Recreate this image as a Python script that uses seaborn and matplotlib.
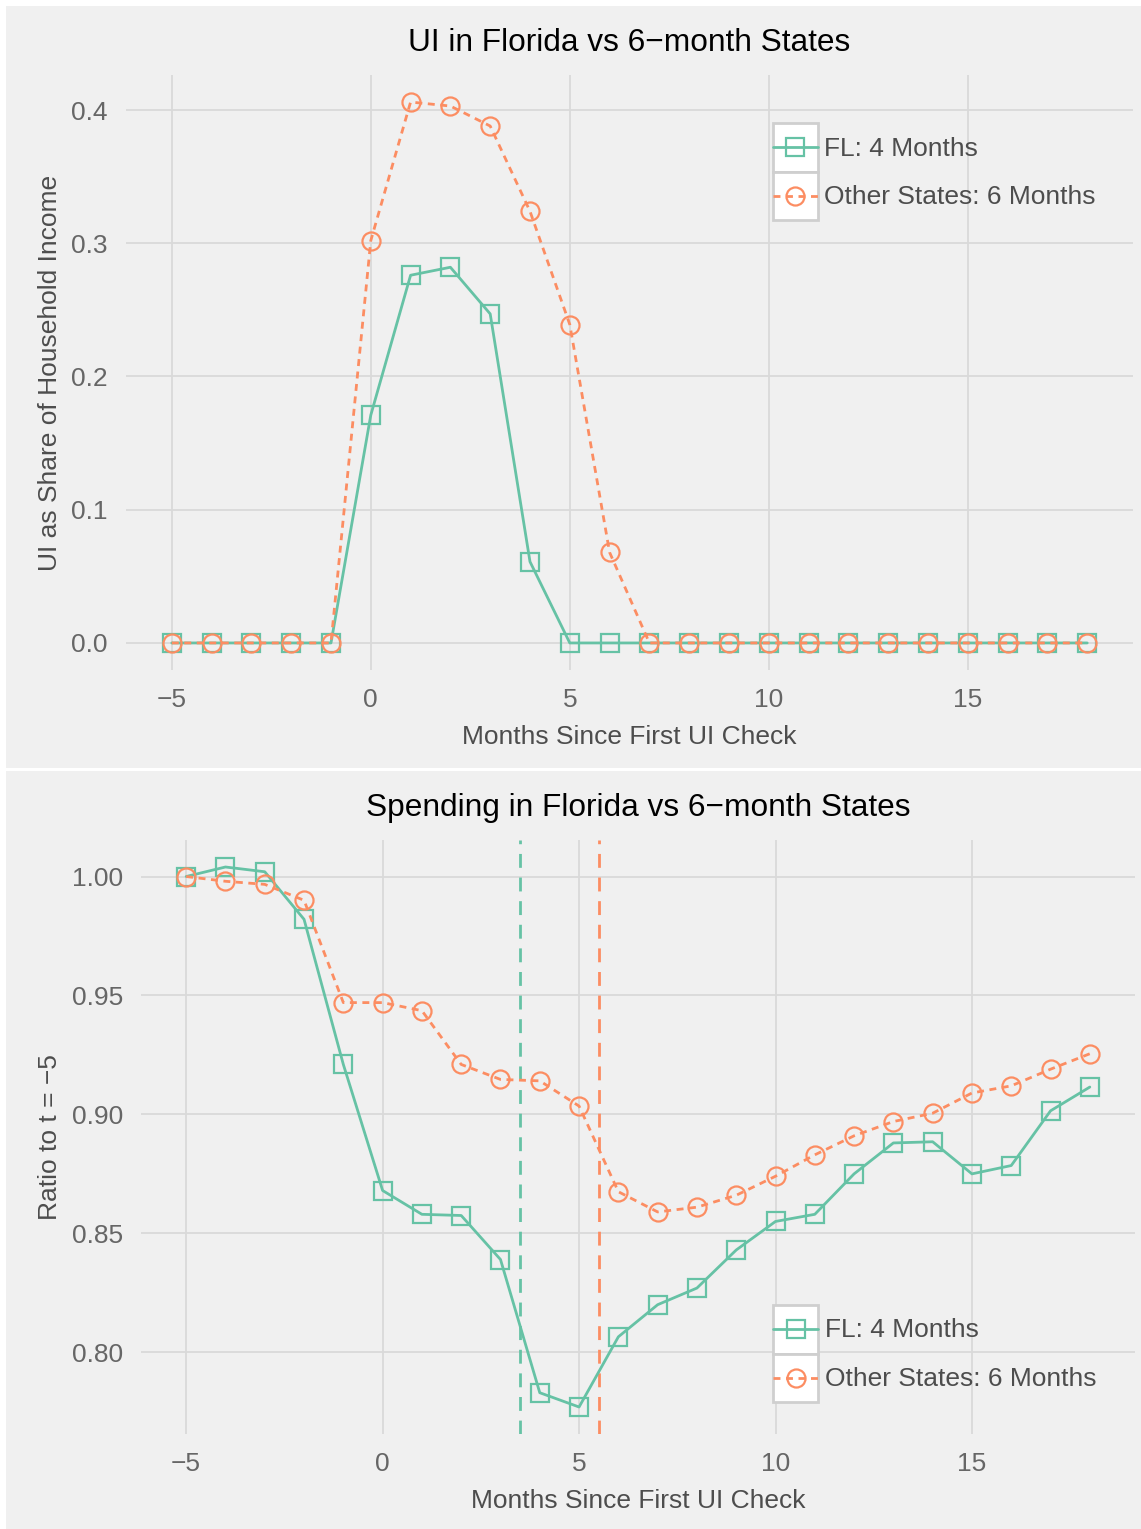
import numpy as np
import pandas as pd
import matplotlib.pyplot as plt
import seaborn as sns
from matplotlib.lines import Line2D
from matplotlib.patches import Rectangle
from matplotlib.legend_handler import HandlerLine2D

# data
months = list(range(-5, 19))
ui_fl = [0, 0, 0, 0, 0, 0.171, 0.276, 0.282, 0.247, 0.061,
         0, 0, 0, 0, 0, 0, 0, 0, 0, 0, 0, 0, 0, 0]
ui_other = [0, 0, 0, 0, 0, 0.302, 0.406, 0.403, 0.388, 0.324, 0.239, 0.068,
            0, 0, 0, 0, 0, 0, 0, 0, 0, 0, 0, 0]
spend_fl = [1.000, 1.004, 1.002, 0.982, 0.921, 0.868, 0.858, 0.8575, 0.839, 0.783,
            0.777, 0.8065, 0.820, 0.827, 0.843, 0.855, 0.858, 0.875, 0.888, 0.8885,
            0.875, 0.8785, 0.9015, 0.9115]
spend_other = [1.000, 0.998, 0.9967, 0.990, 0.947, 0.947, 0.9436, 0.921, 0.9147, 0.9141,
               0.9035, 0.8675, 0.859, 0.861, 0.866, 0.874, 0.883, 0.891, 0.897, 0.9005,
               0.909, 0.912, 0.919, 0.9255]
expiry_months = [3.5, 5.5]
series_names = ["FL: 4 Months", "Other States: 6 Months"]

colors = ["#66c2a5", "#fc8d62"]
markers = ["s", "o"]
styles = ["-", (0, (2.5, 2))]
BG = "#f0f0f0"

sns.set_style("white")
plt.rcParams["font.family"] = ["Liberation Sans", "DejaVu Sans"]

W, H = 1141, 1529
fig = plt.figure(figsize=(W / 100, H / 100), dpi=100, facecolor="white")

# gray panel backgrounds (two stacked plots)
fig.patches.append(Rectangle((6 / W, (H - 768) / H), 1, 762 / H, transform=fig.transFigure,
                             facecolor=BG, edgecolor="none", zorder=-10))
fig.patches.append(Rectangle((6 / W, 0), 1, (H - 771) / H, transform=fig.transFigure,
                             facecolor=BG, edgecolor="none", zorder=-10))


def px_axes(left, right, top, bottom):
    return fig.add_axes([left / W, (H - bottom) / H, (right - left) / W, (bottom - top) / H])


class BoxedHandler(HandlerLine2D):
    # ggplot-like legend key: white box with the line + marker centred in it
    def create_artists(self, legend, orig_handle, xdescent, ydescent, width, height, fontsize, trans):
        arts = super().create_artists(legend, orig_handle, xdescent, ydescent, width, height, fontsize, trans)
        yc = height / 2 - ydescent
        for a in arts:
            a.set_ydata(np.full(len(a.get_xdata()), yc))
        box = Rectangle((-xdescent, -ydescent), width, height, facecolor="white",
                        edgecolor="#cfcfcf", lw=2, transform=trans)
        return [box] + list(arts)


def draw_panel(ax, fl, other, title, ylabel, yticks, yfmt, leg_xy):
    df = pd.DataFrame({"month": months * 2, "value": fl + other,
                       "group": [series_names[0]] * len(months) + [series_names[1]] * len(months)})
    for i, name in enumerate(series_names):
        sub = df[df["group"] == name]
        sns.lineplot(data=sub, x="month", y="value", ax=ax, color=colors[i],
                     linestyle=styles[i], lw=2, marker=markers[i], markersize=13,
                     markerfacecolor="none", markeredgecolor=colors[i], markeredgewidth=1.6,
                     legend=False, zorder=3 + i)
    ax.set_facecolor(BG)
    for s in ax.spines.values():
        s.set_visible(False)
    ax.grid(True, color="#d9d9d9", lw=1.3)
    ax.set_axisbelow(True)
    lo = min(min(fl), min(other))
    hi = max(max(fl), max(other))
    pad = (hi - lo) * 0.05
    ax.set_ylim(lo - pad, hi + pad)
    ax.set_xlim(-5 - 1.15, 18 + 1.15)
    ax.set_xticks([-5, 0, 5, 10, 15])
    ax.set_yticks(yticks)
    ax.set_yticklabels([yfmt.format(v) for v in yticks])
    ax.tick_params(length=0, labelsize=19, labelcolor="#666666", pad=13)
    ax.set_xlabel("Months Since First UI Check", fontsize=19, color="#4d4d4d", labelpad=9)
    ax.set_ylabel(ylabel, fontsize=19, color="#4d4d4d", labelpad=7)
    ax.set_title(title, fontsize=22.8, color="black", pad=17)

    handles = [Line2D([], [], color=colors[i], linestyle=styles[i], lw=2, marker=markers[i],
                      markersize=13, markerfacecolor="none", markeredgecolor=colors[i],
                      markeredgewidth=1.6) for i in range(2)]
    ax.legend(handles, series_names, loc="upper left", bbox_to_anchor=leg_xy, frameon=False,
              fontsize=19, labelcolor="#4d4d4d", handlelength=1.7, handleheight=2.45,
              labelspacing=0, handletextpad=0.25, borderpad=0, borderaxespad=0,
              handler_map={Line2D: BoxedHandler()})


ax1 = px_axes(126, 1133, 75, 670)
draw_panel(ax1, ui_fl, ui_other, "UI in Florida vs 6\u2212month States",
           "UI as Share of Household Income", [0, 0.1, 0.2, 0.3, 0.4], "{:.1f}", (0.6425, 0.919))

ax2 = px_axes(141, 1135, 840, 1434)
for xv, c in zip(expiry_months, colors):
    ax2.axvline(xv, color=c, lw=2, linestyle=(0, (5, 3.5)), zorder=2)
draw_panel(ax2, spend_fl, spend_other, "Spending in Florida vs 6\u2212month States",
           "Ratio to t = \u22125", [0.80, 0.85, 0.90, 0.95, 1.00], "{:.2f}", (0.636, 0.217))

fig.savefig("out.png", dpi=100, facecolor="white")
